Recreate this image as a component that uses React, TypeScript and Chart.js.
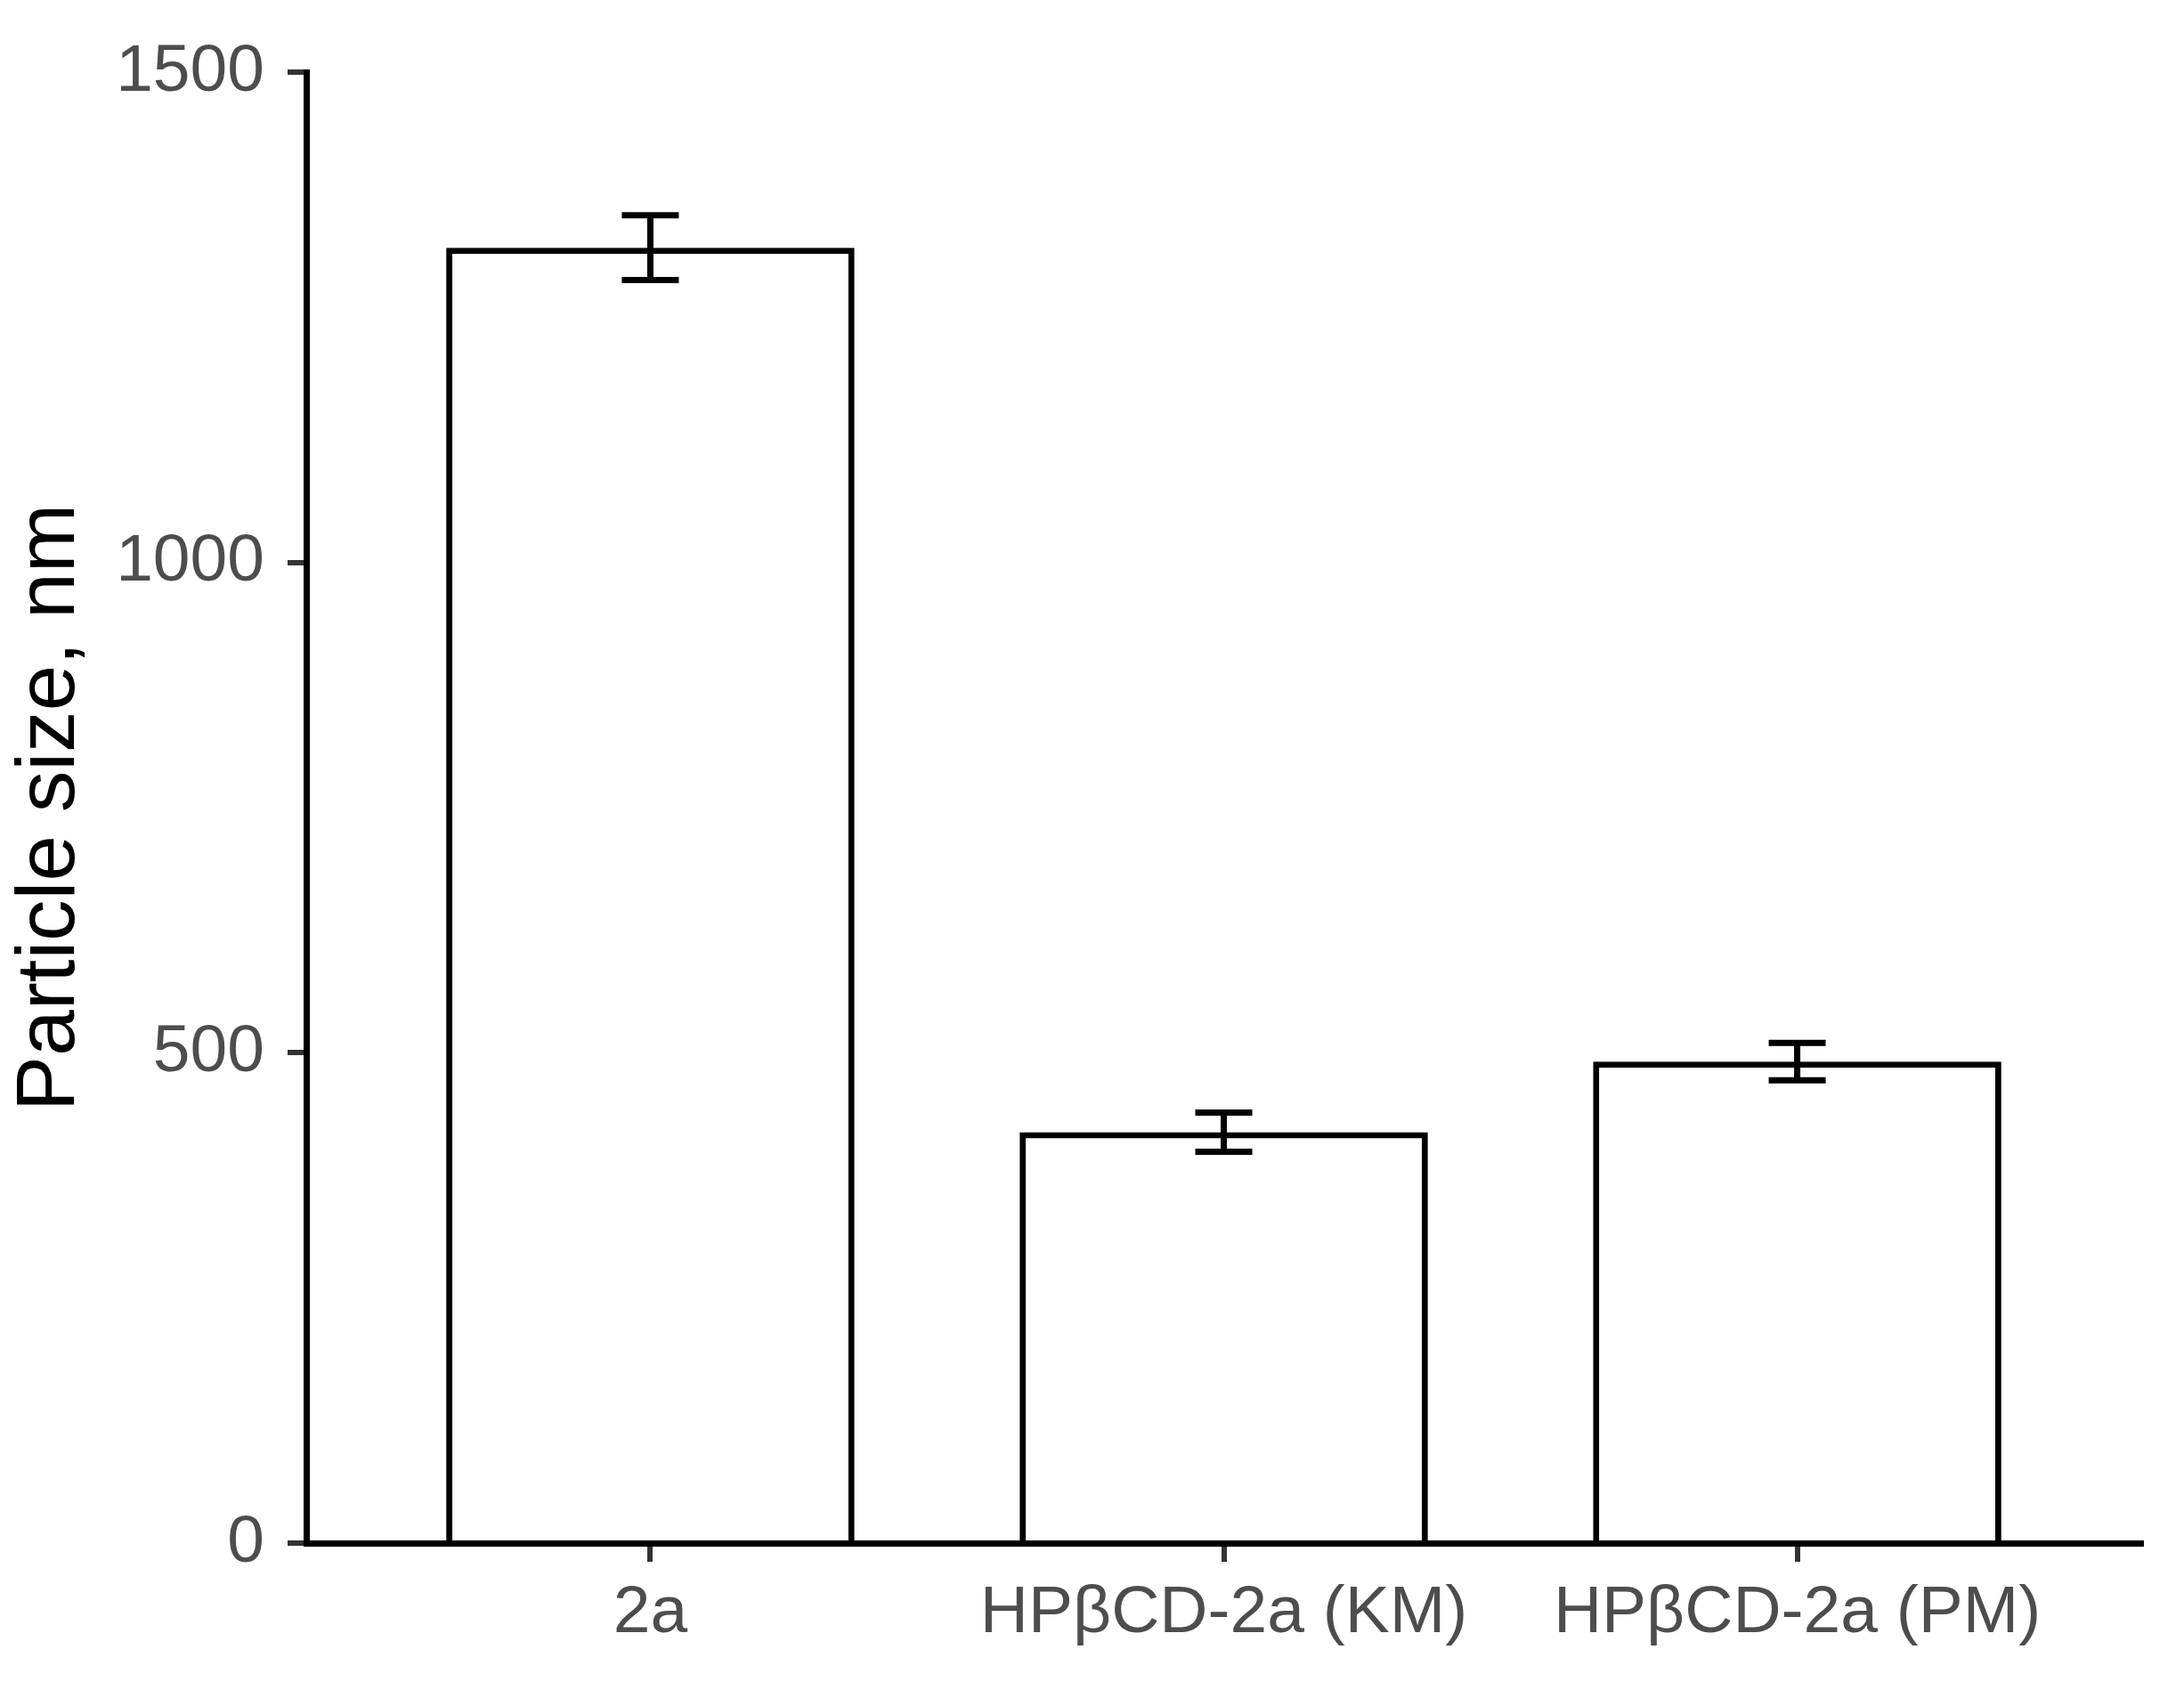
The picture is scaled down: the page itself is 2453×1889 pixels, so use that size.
import React, { useEffect, useRef } from 'react';
import { Chart, registerables } from 'chart.js';

Chart.register(...registerables);

const categories = ['2a', 'HPβCD-2a (KM)', 'HPβCD-2a (PM)'];
const positions = [1, 2, 3];
const means = [1321, 419, 491];
const errors = [33, 20, 19];
const yTicks = [0, 500, 1000, 1500];

const FONT = '"Liberation Sans", Arial, Helvetica, sans-serif';

const errorBarPlugin = {
  id: 'errorBars',
  afterDatasetsDraw(chart: any) {
    const { ctx, scales } = chart;
    const x = scales.x;
    const y = scales.y;
    ctx.save();
    ctx.strokeStyle = '#000000';
    ctx.lineWidth = 7;
    ctx.lineCap = 'butt';
    positions.forEach((p, i) => {
      const px = x.getPixelForValue(p);
      const top = y.getPixelForValue(means[i] + errors[i]);
      const bot = y.getPixelForValue(means[i] - errors[i]);
      const half = 32;
      ctx.beginPath();
      ctx.moveTo(px, top);
      ctx.lineTo(px, bot);
      ctx.moveTo(px - half, top);
      ctx.lineTo(px + half, top);
      ctx.moveTo(px - half, bot);
      ctx.lineTo(px + half, bot);
      ctx.stroke();
    });
    ctx.restore();
  },
};

export default function App() {
  const canvasRef = useRef<HTMLCanvasElement | null>(null);

  useEffect(() => {
    if (!canvasRef.current) return;
    const chart = new Chart(canvasRef.current, {
      type: 'bar',
      data: {
        datasets: [
          {
            data: positions.map((p, i) => ({ x: p, y: means[i] })),
            backgroundColor: '#ffffff',
            borderColor: '#000000',
            borderWidth: 7,
            categoryPercentage: 0.712,
            barPercentage: 1,
          } as any,
        ],
      },
      options: {
        responsive: false,
        maintainAspectRatio: false,
        animation: false,
        layout: { padding: { top: 81, right: 48, left: 0, bottom: 0 } },
        plugins: {
          legend: { display: false },
          tooltip: { enabled: false },
        },
        scales: {
          x: {
            type: 'linear',
            min: 0.4,
            max: 3.6,
            offset: false,
            grid: {
              offset: false,
              drawOnChartArea: false,
              drawTicks: true,
              tickLength: 21,
              color: '#333333',
              lineWidth: 6,
            },
            border: { display: true, color: '#000000', width: 7 },
            ticks: {
              font: { family: FONT, size: 75 },
              color: '#4d4d4d',
              padding: 13,
              maxRotation: 0,
              autoSkip: false,
              callback: (v: any) => {
                const idx = positions.indexOf(Number(v));
                return idx >= 0 ? categories[idx] : '';
              },
            },
            afterBuildTicks: (s: any) => {
              s.ticks = positions.map((v) => ({ value: v }));
            },
            afterFit: (s: any) => {
              s.height = 156;
            },
          } as any,
          y: {
            type: 'linear',
            min: 0,
            max: 1500,
            grid: {
              offset: false,
              drawOnChartArea: false,
              drawTicks: true,
              tickLength: 21,
              color: '#333333',
              lineWidth: 6,
            },
            border: { display: true, color: '#000000', width: 7 },
            ticks: {
              font: { family: FONT, size: 75 },
              color: '#4d4d4d',
              padding: 26,
              stepSize: 500,
              callback: (v: any) => String(v),
            },
            afterBuildTicks: (s: any) => {
              s.ticks = yTicks.map((v) => ({ value: v }));
            },
            title: {
              display: true,
              text: 'Particle size, nm',
              color: '#000000',
              font: { family: FONT, size: 93 },
              padding: { top: 2, bottom: 0 },
            },
            afterFit: (s: any) => {
              s.width = 344;
            },
          } as any,
        },
      },
      plugins: [errorBarPlugin],
    });
    return () => chart.destroy();
  }, []);

  return (
    <div style={{ position: 'absolute', left: 0, top: 0, width: 2453, height: 1889, background: '#ffffff' }}>
      <canvas ref={canvasRef} width={2453} height={1889} />
    </div>
  );
}
